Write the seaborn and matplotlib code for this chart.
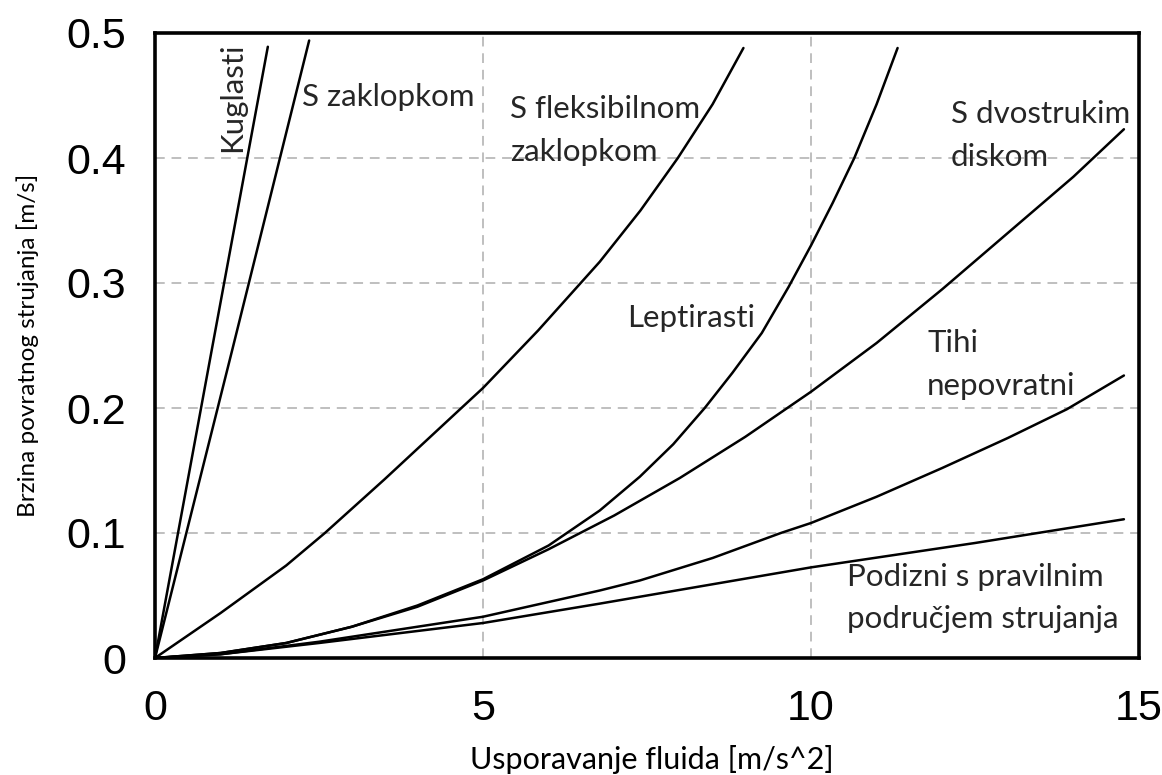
import matplotlib
matplotlib.use("Agg")
import matplotlib.pyplot as plt
import seaborn as sns
import pandas as pd

# ---- data ----
kuglasti_x = [0, 0.86, 1.72]
kuglasti_y = [0, 0.245, 0.489]

zaklopka_x = [0, 1.18, 2.35]
zaklopka_y = [0, 0.247, 0.494]

fleks_x = [0, 1, 2, 2.59, 3.5, 4.65, 5, 5.84, 6.78, 7.4, 7.97, 8.5, 8.97]
fleks_y = [0, 0.036, 0.074, 0.1, 0.143, 0.199, 0.216, 0.262, 0.317, 0.358, 0.4, 0.443, 0.488]

leptir_x = [0, 1, 2, 3, 4, 5, 6, 6.78, 7.39, 7.9, 8.38, 8.8, 9.25, 9.66, 10, 10.33, 10.66, 11, 11.32]
leptir_y = [0, 0.004, 0.012, 0.025, 0.042, 0.063, 0.09, 0.118, 0.145, 0.171, 0.2, 0.228, 0.26, 0.297, 0.33, 0.364, 0.4, 0.443, 0.488]

dvostruki_x = [0, 1, 2, 3, 4, 5, 6, 7, 8, 9, 10, 11, 12, 13, 14, 14.77]
dvostruki_y = [0, 0.004, 0.012, 0.025, 0.041, 0.062, 0.087, 0.114, 0.144, 0.177, 0.213, 0.252, 0.295, 0.34, 0.385, 0.423]

tihi_x = [0, 1, 2.5, 5, 6.78, 7.39, 8.5, 9.54, 10, 11, 12, 13, 13.9, 14.77]
tihi_y = [0, 0.003, 0.013, 0.033, 0.054, 0.062, 0.08, 0.1, 0.108, 0.129, 0.152, 0.176, 0.199, 0.226]

podizni_x = [0, 1, 2.5, 5, 6.78, 7.39, 10, 12.5, 14.77]
podizni_y = [0, 0.003, 0.012, 0.028, 0.0435, 0.049, 0.0725, 0.092, 0.111]

series_names = ["Kuglasti", "S zaklopkom", "S fleksibilnom zaklopkom", "Leptirasti",
                "S dvostrukim diskom", "Tihi nepovratni", "Podizni"]
series_x = [kuglasti_x, zaklopka_x, fleks_x, leptir_x, dvostruki_x, tihi_x, podizni_x]
series_y = [kuglasti_y, zaklopka_y, fleks_y, leptir_y, dvostruki_y, tihi_y, podizni_y]

x_ticks = [0, 5, 10, 15]
y_ticks = [0, 0.1, 0.2, 0.3, 0.4, 0.5]
y_tick_labels = ["0", "0.1", "0.2", "0.3", "0.4", "0.5"]
x_label = "Usporavanje fluida [m/s^2]"
y_label = "Brzina povratnog strujanja [m/s]"

rows = []
for name, xs, ys in zip(series_names, series_x, series_y):
    for xv, yv in zip(xs, ys):
        rows.append({"serija": name, "x": xv, "y": yv})
df = pd.DataFrame(rows)

# ---- plot ----
sns.set_theme(style="white")
plt.rcParams["font.family"] = ["Lato", "DejaVu Sans"]

fig = plt.figure(figsize=(11.62, 7.75), dpi=100)
ax = fig.add_axes([155 / 1162, 1 - 658 / 775, (1139 - 155) / 1162, (658 - 33) / 775])

sns.lineplot(data=df, x="x", y="y", hue="serija", units="serija", estimator=None,
             sort=False, palette=["black"] * len(series_names), linewidth=1.8,
             legend=False, ax=ax, zorder=3)

ax.set_xlim(0, 15)
ax.set_ylim(0, 0.5)
ax.set_xticks(x_ticks)
ax.set_yticks(y_ticks)
ax.set_yticklabels(y_tick_labels)
ax.tick_params(axis="both", length=0, labelsize=31, colors="black")
ax.tick_params(axis="x", pad=22)
ax.tick_params(axis="y", pad=21)
for lab in ax.get_xticklabels() + ax.get_yticklabels():
    lab.set_family(["Liberation Sans", "DejaVu Sans"])

ax.grid(True, color="#bfbfbf", linestyle=(0, (5, 3.5)), linewidth=1.4)
for s in ax.spines.values():
    s.set_visible(True)
    s.set_color("black")
    s.set_linewidth(2.6)

ax.set_xlabel(x_label, fontsize=22, color="black", va="center")
ax.xaxis.set_label_coords(0.505, -0.162)
ax.set_ylabel(y_label, fontsize=17.5, color="black", va="center")
ax.yaxis.set_label_coords(-0.129, 0.5)

fs = 22.5
ls = 1.65
ax.text(1.17, 0.449, "Kuglasti", rotation=90, ha="center", va="center", fontsize=fs)
ax.text(2.24, 0.449, "S zaklopkom", ha="left", va="center", fontsize=fs)
ax.text(5.41, 0.422, "S fleksibilnom\nzaklopkom", ha="left", va="center", fontsize=fs, linespacing=ls)
ax.text(7.2, 0.272, "Leptirasti", ha="left", va="center", fontsize=fs)
ax.text(12.13, 0.418, "S dvostrukim\ndiskom", ha="left", va="center", fontsize=fs, linespacing=ls)
ax.text(11.77, 0.235, "Tihi\nnepovratni", ha="left", va="center", fontsize=fs, linespacing=ls)
ax.text(10.55, 0.048, "Podizni s pravilnim\npodručjem strujanja", ha="left", va="center",
        fontsize=fs, linespacing=ls)

fig.savefig("out.png", dpi=100)
